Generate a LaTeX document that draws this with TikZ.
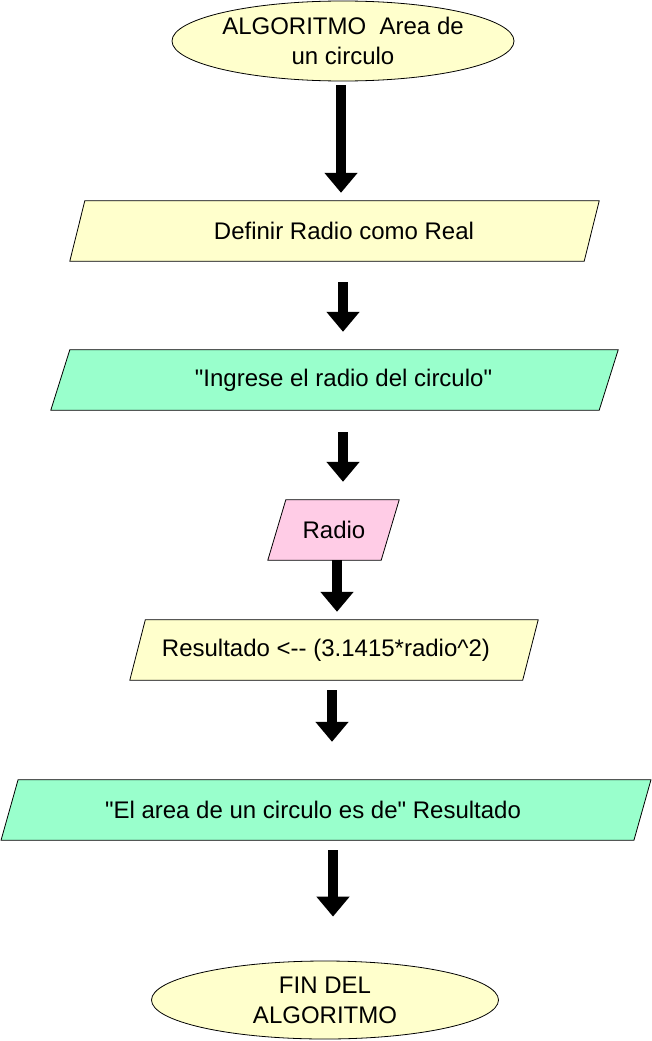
\documentclass[tikz,border=0pt]{standalone}
\usepackage{fontspec}
\setmainfont{Liberation Sans}[Ligatures=TeXOff]
\usetikzlibrary{shapes.geometric,arrows.meta,backgrounds}
\definecolor{yellowfill}{RGB}{255,255,204}
\definecolor{greenfill}{RGB}{153,255,204}
\definecolor{pinkfill}{RGB}{255,204,230}
\newcommand\slantbox[3]{%
  \filldraw[draw=black, fill=#3, line width=0.8pt]
    ([xshift=#2/2]#1.north west) -- ([xshift=#2/2]#1.north east) --
    ([xshift=-#2/2]#1.south east) -- ([xshift=-#2/2]#1.south west) -- cycle;}
\begin{document}
\begin{tikzpicture}[x=1pt,y=-1pt,
  txt/.style={font=\fontsize{24}{30}\selectfont, text=black, align=center},
  term/.style={txt, ellipse, draw=black, fill=yellowfill, line width=0.8pt, inner sep=0pt},
  iobox/.style={rectangle, draw=none, inner sep=0pt, minimum height=60pt},
  arr/.style={line width=10pt, black, -{Triangle[width=32pt,length=20pt]}}
]
\useasboundingbox (0,0) rectangle (651,1041);

\node[term, minimum width=342pt, minimum height=80pt] (e1) at (343,41)
  {ALGORITMO\ \ Area de\\un circulo};

\node[iobox, minimum width=514pt, label={[txt, xshift=9.5pt]center:Definir Radio como Real}] (p1) at (334.5,231) {};
\node[iobox, minimum width=548pt, label={[txt, xshift=9pt]center:"Ingrese el radio del circulo"}] (p2) at (334.5,380) {};
\node[iobox, minimum width=113pt, label={[txt, xshift=0.5pt]center:Radio}] (p3) at (333.5,530) {};
\node[iobox, minimum width=392.5pt, label={[txt, xshift=-8pt]center:Resultado <-- (3.1415*radio\^{}2)}] (p4) at (334,650) {};
\node[iobox, minimum width=632.5pt, label={[txt, xshift=-13pt]center:"El area de un circulo es de" Resultado}] (p5) at (326,810) {};

\node[term, minimum width=347pt, minimum height=78pt] (e2) at (325,1000)
  {FIN DEL\\ALGORITMO};

\begin{scope}[on background layer]
  \slantbox{p1}{15pt}{yellowfill}
  \slantbox{p2}{19pt}{greenfill}
  \slantbox{p3}{18pt}{pinkfill}
  \slantbox{p4}{15.5pt}{yellowfill}
  \slantbox{p5}{17pt}{greenfill}
\end{scope}

\draw[arr, shorten <=4pt, shorten >=8pt] ([xshift=-2pt]e1.south) -- ([xshift=-2pt]e1.south |- p1.north);
\draw[arr, shorten <=21pt, shorten >=18pt] ([xshift=8.5pt]p1.south) -- ([xshift=8.5pt]p1.south |- p2.north);
\draw[arr, shorten <=22pt, shorten >=18pt] ([xshift=8.5pt]p2.south) -- ([xshift=8.5pt]p2.south |- p3.north);
\draw[arr, shorten <=0pt, shorten >=8pt] ([xshift=3.5pt]p3.south) -- ([xshift=3.5pt]p3.south |- p4.north);
\draw[arr, shorten <=10pt, shorten >=38pt] ([xshift=-2pt]p4.south) -- ([xshift=-2pt]p4.south |- p5.north);
\draw[arr, shorten <=10pt, shorten >=44pt] ([xshift=7pt]p5.south) -- ([xshift=7pt]p5.south |- e2.north);
\end{tikzpicture}
\end{document}
